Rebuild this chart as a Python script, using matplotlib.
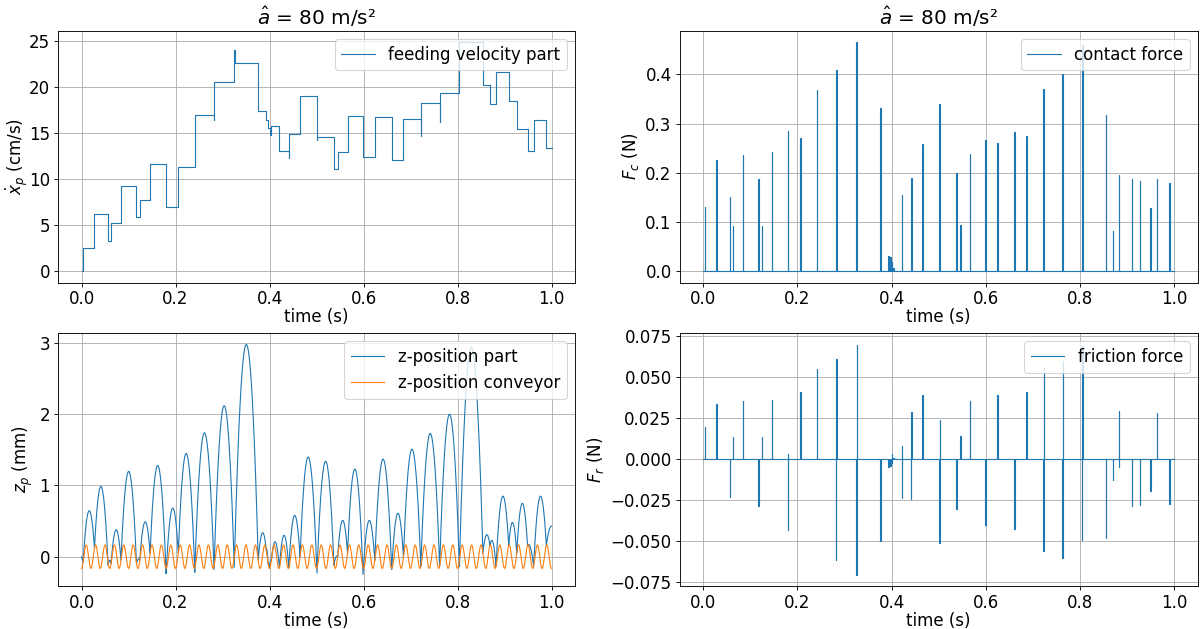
import numpy as np
import matplotlib
matplotlib.use("Agg")
import matplotlib.pyplot as plt

# ---------------- data ----------------
# impact times (s) – each impact produces a contact / friction pulse
impact_times = [0.0035, 0.0276, 0.0566, 0.063, 0.084, 0.117, 0.124, 0.146, 0.180, 0.206,
                0.241, 0.282, 0.325, 0.376, 0.393, 0.397, 0.400, 0.404, 0.421, 0.441,
                0.465, 0.501, 0.537, 0.545, 0.566, 0.599, 0.624, 0.660, 0.685, 0.722,
                0.762, 0.804, 0.854, 0.869, 0.882, 0.909, 0.926, 0.949, 0.962, 0.989]

# feeding velocity (cm/s) after each impact, and short transient value during impact
velocity_after = [2.46, 6.16, 3.3, 5.25, 9.2, 5.83, 7.68, 11.6, 6.96, 11.34,
                  17.0, 20.6, 22.6, 17.4, 16.4, 15.5, 14.8, 15.8, 13.0, 14.9,
                  19.06, 14.6, 11.1, 12.9, 16.8, 12.4, 16.7, 12.1, 16.5, 18.3,
                  19.4, 24.9, 20.2, 18.2, 21.6, 18.5, 15.4, 13.1, 16.4, 13.4]
velocity_transient = [None, None, None, None, None, None, None, None, None, None,
                      None, 16.4, 24.0, None, None, None, None, None, None, 12.3,
                      None, 14.2, None, None, None, None, None, None, None, 14.7,
                      16.2, None, None, None, None, None, None, None, None, None]
velocity_start = 0.0

# contact force peaks (N)
contact_force = [0.130, 0.225, 0.150, 0.091, 0.237, 0.187, 0.091, 0.242, 0.284, 0.271,
                 0.368, 0.408, 0.466, 0.332, 0.030, 0.028, 0.018, 0.006, 0.154, 0.190,
                 0.259, 0.340, 0.200, 0.093, 0.238, 0.266, 0.261, 0.282, 0.274, 0.370,
                 0.400, 0.460, 0.318, 0.081, 0.196, 0.187, 0.184, 0.128, 0.187, 0.179]

# friction force pulses (N): positive and negative excursion per impact
friction_up = [0.0197, 0.0337, 0.0, 0.0136, 0.0356, 0.0, 0.0136, 0.0362, 0.003, 0.0409,
               0.0551, 0.0612, 0.0701, 0.0, 0.0, 0.0, 0.003, 0.001, 0.0079, 0.0287,
               0.039, 0.024, 0.0, 0.014, 0.0356, 0.0, 0.0392, 0.0, 0.041, 0.0555,
               0.060, 0.069, 0.0, 0.0, 0.0295, 0.0, 0.0, 0.0, 0.0283, 0.0]
friction_down = [0.0, 0.0, -0.0228, 0.0, 0.0, -0.0283, 0.0, 0.0, -0.0429, 0.0,
                 0.0, -0.0616, -0.0703, -0.050, -0.0045, -0.004, -0.002, 0.0, -0.0234, -0.0244,
                 0.0, -0.051, -0.0303, 0.0, 0.0, -0.040, 0.0, -0.0425, 0.0, -0.0561,
                 -0.0604, -0.0492, -0.048, -0.0124, -0.0045, -0.0283, -0.0278, -0.0195, 0.0, -0.027]

# apex height (mm) of the flight phase following each impact
flight_apex = [0.646, 0.987, -0.05, 0.379, 1.198, -0.03, 0.49, 1.28, 0.683, 1.45,
               1.74, 2.12, 2.98, 0.337, 0.11, -0.09, -0.04, 0.21, 0.30, 0.58,
               1.40, 1.34, 0.01, 0.51, 1.23, 0.51, 1.37, 0.61, 1.51, 1.73,
               2.0, 2.94, 0.31, 0.23, 0.85, 0.48, 0.75, 0.17, 0.85, 0.43]
# part z (mm) at impact when it visibly dips below the conveyor (None = on conveyor)
impact_z = [None, None, -0.12, None, None, None, None, None, -0.24, None,
            -0.22, -0.18, -0.15, None, None, None, None, None, None, None,
            None, -0.23, -0.12, None, None, -0.25, None, -0.18, None, None,
            -0.14, -0.14, None, None, None, None, None, None, None, None]
last_flight_end = 1.012
part_z_start = 0.0

# conveyor motion
conveyor_amplitude_mm = 0.165
conveyor_freq_hz = 50.0
t_end = 1.0

# ---------------- build curves ----------------
def conveyor(t):
    return -conveyor_amplitude_mm * np.cos(2 * np.pi * conveyor_freq_hz * np.asarray(t))

# velocity step path
vx, vy = [0.0], [velocity_start]
prev = velocity_start
d = 0.0006
for t, lvl, tr in zip(impact_times, velocity_after, velocity_transient):
    vx.append(t); vy.append(prev)
    if tr is not None:
        vx += [t, t + d]; vy += [tr, tr]
        vx += [t + d]; vy += [lvl]
    else:
        vx.append(t); vy.append(lvl)
    prev = lvl
vx.append(t_end); vy.append(prev)

# pulse paths for forces
w = 0.0012
cx, cy = [0.0], [0.0]
for t, f in zip(impact_times, contact_force):
    cx += [t, t, t + w, t + w]; cy += [0, f, f, 0]
cx.append(t_end); cy.append(0.0)

fx, fy = [0.0], [0.0]
for t, u, dn in zip(impact_times, friction_up, friction_down):
    if u != 0 and dn != 0:
        fx += [t, t, t + w / 2, t + w / 2, t + w, t + w]; fy += [0, dn, dn, u, u, 0]
    else:
        val = u if u != 0 else dn
        fx += [t, t, t + w, t + w]; fy += [0, val, val, 0]
fx.append(t_end); fy.append(0.0)

# part z trajectory: parabolic flights between impacts
def z_at_impact(i, t):
    if i < len(impact_z) and impact_z[i] is not None:
        return impact_z[i]
    return float(conveyor(t))

zx_list = [np.array([0.0, impact_times[0]])]
zy_list = [np.array([part_z_start, z_at_impact(0, impact_times[0])])]
ends = impact_times[1:] + [last_flight_end]
for i, (ts, te, h) in enumerate(zip(impact_times, ends, flight_apex)):
    zs, ze = z_at_impact(i, ts), z_at_impact(i + 1, te)
    h = max(h, max(zs, ze) + 0.005)
    sk = (np.sqrt(h - zs) + np.sqrt(h - ze)) / (te - ts)
    tm = ts + np.sqrt(h - zs) / sk
    tt = np.linspace(ts, min(te, t_end), 60)
    zx_list.append(tt)
    zy_list.append(h - sk ** 2 * (tt - tm) ** 2)
zpx = np.concatenate(zx_list)
zpy = np.concatenate(zy_list)

tc = np.linspace(0, t_end, 4001)
zc = conveyor(tc)

# ---------------- plot ----------------
DPI = 80
plt.rcParams['font.size'] = 15
fig = plt.figure(figsize=(1204 / DPI, 629 / DPI), dpi=DPI)
W, H = 1204, 629
def pos(l, r, t, b):
    return [l / W, 1 - b / H, (r - l) / W, (b - t) / H]

ax1 = fig.add_axes(pos(58, 575, 30.5, 282.5))
ax2 = fig.add_axes(pos(679.5, 1198, 30.5, 282.5))
ax3 = fig.add_axes(pos(58, 575, 333, 586))
ax4 = fig.add_axes(pos(679.5, 1198, 333, 586))

lw = 1.0
ax1.plot(vx, vy, color='C0', lw=lw, label='feeding velocity part')
ax1.set_ylabel(r'$\dot{x}_p$ (cm/s)', labelpad=-0.5)
ax1.set_title(r'$\hat{a}$ = 80 m/s²')

ax2.plot(cx, cy, color='C0', lw=lw, label='contact force')
ax2.set_ylabel(r'$F_c$ (N)')
ax2.set_title(r'$\hat{a}$ = 80 m/s²')

ax3.plot(zpx, zpy, color='C0', lw=lw, label='z-position part')
ax3.plot(tc, zc, color='C1', lw=lw, label='z-position conveyor')
ax3.set_ylabel(r'$z_p$ (mm)')

ax4.plot(fx, fy, color='C0', lw=lw, label='friction force')
ax4.set_ylabel(r'$F_r$ (N)')

for ax in (ax1, ax2, ax3, ax4):
    ax.set_xlabel('time (s)', labelpad=0)
    ax.grid(True)
    ax.legend(loc='upper right')
    ax.set_xticks([0.0, 0.2, 0.4, 0.6, 0.8, 1.0])

fig.savefig('out.png', dpi=DPI)
